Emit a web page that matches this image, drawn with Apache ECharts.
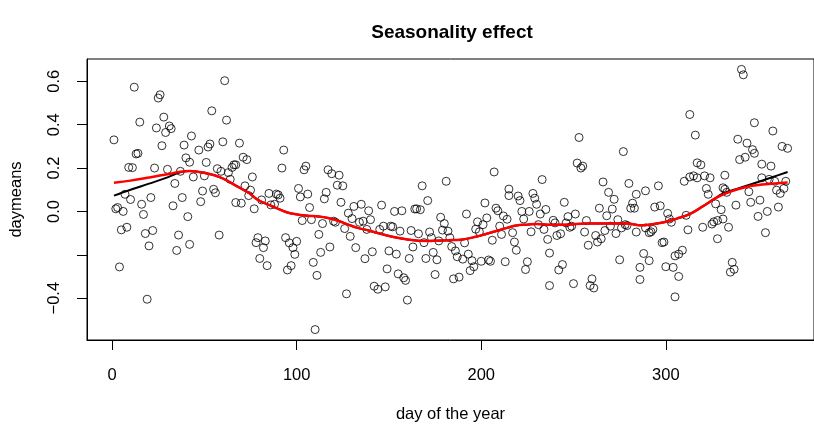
<!DOCTYPE html>
<html>
<head>
<meta charset="utf-8">
<script src="https://cdn.jsdelivr.net/npm/echarts@6/dist/echarts.min.js"></script>
<style>html,body{margin:0;padding:0;background:#fff}#c{width:814px;height:428px}</style>
</head>
<body>
<div id="c"></div>
<script>
// ---- data ----
const scatterDays = [
 12,26,25,15,28,24,31,32,29,1,27,39,43,13,14,40,42,9,11,23,30,37,44,34,7,10,21,38,16,33,2,3,6,17,41,8,5,18,22,36,20,42,35,4,19,
 61,54,62,47,52,53,60,69,51,50,57,59,65,66,67,63,71,73,76,64,72,75,49,55,56,48,67,70,74,77,81,85,86,89,90,88,58,79,78,83,82,80,84,
 93,92,104,105,117,119,123,122,125,101,102,106,116,115,91,107,124,103,108,114,120,121,126,128,130,131,135,139,134,136,138,140,129,112,94,96,98,100,99,118,113,132,137,95,97,109,111,127,142,110,141,
 181,168,171,146,153,157,164,165,167,147,145,151,152,156,162,166,172,173,169,177,178,180,179,182,183,184,186,187,150,154,163,161,170,174,176,149,155,158,159,175,185,188,144,148,160,
 207,233,215,215,220,221,228,229,230,202,192,208,209,212,214,203,198,201,197,199,222,223,226,232,235,210,211,217,218,219,227,231,234,236,237,206,191,193,195,196,194,190,200,204,205,213,225,224,237,
 253,277,252,254,255,266,280,269,272,284,245,282,281,283,264,271,251,247,268,239,240,246,248,249,257,274,276,270,278,279,267,256,262,265,263,273,284,243,241,258,275,244,242,286,286,250,260,259,261,
 313,316,317,319,313,315,317,310,321,324,332,331,332,322,323,296,289,294,297,301,302,303,311,327,330,328,326,325,320,312,334,293,292,291,289,328,298,299,288,291,300,304,307,305,307,309,305,
 341,342,348,358,339,344,347,348,363,366,340,343,352,357,352,356,359,365,364,360,362,345,333,331,346,351,338,361,355,350,354,336,335,337
];
const scatterVals = [
 0.573,0.538,0.523,0.412,0.435,0.385,0.394,0.382,0.364,0.330,0.303,0.306,0.348,0.265,0.268,0.247,0.227,0.203,0.202,0.200,0.194,0.185,0.159,0.129,0.079,0.055,0.064,0.064,0.033,0.026,0.012,0.018,0.000,-0.014,-0.024,-0.073,-0.085,-0.102,-0.088,-0.109,-0.159,-0.152,-0.180,-0.256,-0.405,
 0.603,0.464,0.421,0.283,0.297,0.311,0.321,0.315,0.226,0.164,0.197,0.185,0.203,0.215,0.215,0.179,0.250,0.239,0.159,0.148,0.118,0.098,0.094,0.102,0.086,0.045,0.041,0.038,0.073,0.012,0.053,0.083,0.030,0.080,0.076,0.033,-0.109,-0.121,-0.144,-0.136,-0.167,-0.217,-0.250,
 0.283,0.200,0.192,0.209,0.192,0.174,0.167,0.121,0.118,0.106,0.067,0.080,0.088,0.058,0.061,0.018,0.042,-0.042,-0.038,-0.056,-0.045,-0.050,-0.079,-0.008,-0.033,0.023,0.033,0.003,-0.050,-0.045,-0.083,-0.038,-0.115,-0.106,-0.121,-0.145,-0.167,-0.138,-0.198,-0.164,-0.189,-0.167,-0.218,-0.270,-0.250,-0.235,-0.295,-0.380,-0.345,-0.545,-0.186,
 0.139,0.118,0.050,0.029,0.000,0.003,0.011,0.012,0.008,-0.068,-0.083,-0.068,-0.071,-0.091,-0.088,-0.103,-0.095,-0.121,-0.144,-0.136,-0.027,-0.056,-0.086,-0.091,-0.121,-0.162,-0.182,-0.209,-0.182,-0.197,-0.164,-0.217,-0.217,-0.189,-0.223,-0.265,-0.288,-0.306,-0.318,-0.291,-0.311,-0.303,-0.359,-0.348,-0.409,
 0.182,0.147,0.103,0.073,0.071,0.050,0.083,0.061,0.033,0.039,-0.012,0.015,0.003,-0.021,-0.036,-0.030,-0.048,-0.061,-0.082,-0.094,0.000,-0.035,0.000,-0.012,0.009,-0.068,-0.106,-0.098,-0.141,-0.179,-0.094,-0.061,-0.083,-0.129,-0.192,-0.133,-0.145,-0.197,-0.227,-0.255,-0.273,-0.220,-0.230,-0.224,-0.230,-0.232,-0.232,-0.268,-0.342,
 0.341,0.276,0.223,0.200,0.209,0.136,0.129,0.088,0.056,0.079,0.042,0.038,0.015,0.015,0.015,0.011,-0.012,-0.024,-0.020,-0.041,-0.053,-0.053,-0.073,-0.068,-0.042,-0.038,-0.076,-0.068,-0.061,-0.065,-0.088,-0.095,-0.111,-0.126,-0.141,-0.102,-0.095,-0.103,-0.111,-0.156,-0.223,-0.245,-0.270,-0.258,-0.314,-0.333,-0.311,-0.342,-0.353,
 0.447,0.352,0.224,0.215,0.159,0.164,0.155,0.139,0.164,0.155,0.167,0.109,0.102,0.106,0.079,0.118,0.095,0.020,0.026,-0.009,-0.035,-0.050,-0.018,0.035,0.008,-0.042,-0.048,-0.058,-0.073,-0.085,-0.073,-0.083,-0.094,-0.098,-0.076,-0.126,-0.144,-0.141,-0.194,-0.227,-0.255,-0.258,-0.300,-0.205,-0.197,-0.179,-0.394,
 0.655,0.630,0.409,0.371,0.333,0.315,0.285,0.268,0.300,0.291,0.239,0.250,0.218,0.209,0.155,0.148,0.139,0.139,0.106,0.098,0.083,0.091,0.088,-0.035,0.042,0.052,0.029,0.020,0.000,-0.023,-0.098,-0.235,-0.280,-0.267
];
// red smoother
const redDays = [1,10,20,30,37,42,47,52,58,63,68,74,79,85,90,95,101,106,112,117,122,128,133,139,149,160,171,182,190,197,203,209,214,219,225,230,236,246,257,268,279,287,291,299,306,313,320,327,335,344,352,359,366];
const redVals = [0.132,0.142,0.156,0.171,0.183,0.187,0.182,0.174,0.159,0.139,0.114,0.086,0.053,0.030,0.012,-0.005,-0.015,-0.020,-0.023,-0.030,-0.042,-0.061,-0.076,-0.088,-0.111,-0.129,-0.136,-0.133,-0.129,-0.117,-0.103,-0.088,-0.076,-0.065,-0.061,-0.058,-0.061,-0.061,-0.056,-0.056,-0.056,-0.064,-0.061,-0.050,-0.033,-0.012,0.023,0.061,0.091,0.114,0.124,0.129,0.133];
// black smoother (mostly hidden under the red one)
const blackDays = [1,10,20,30,37,42,47,52,58,63,68,74,79,85,90,95,101,106,112,117,122,128,133,139,149,160,171,182,190,197,203,209,214,219,225,230,236,246,257,268,279,287,291,299,306,313,320,327,330,340,350,358,366];
const blackVals = [0.073,0.100,0.128,0.157,0.180,0.186,0.182,0.174,0.159,0.139,0.114,0.086,0.053,0.030,0.012,-0.005,-0.015,-0.020,-0.023,-0.030,-0.042,-0.061,-0.076,-0.088,-0.111,-0.129,-0.136,-0.133,-0.129,-0.117,-0.103,-0.088,-0.076,-0.065,-0.061,-0.058,-0.061,-0.061,-0.056,-0.056,-0.056,-0.064,-0.061,-0.050,-0.033,-0.012,0.023,0.061,0.079,0.108,0.136,0.159,0.182];
// ticks
const xTicks = [0,100,200,300];
const yTicks = [-0.4,-0.2,0,0.2,0.4,0.6];
const yLabelTicks = [-0.4,0,0.2,0.4,0.6];

const FONT = 'Liberation Sans, Arial, Helvetica, sans-serif';
const chart = echarts.init(document.getElementById('c'), null, {renderer:'canvas'});
const pair = (xs, ys) => xs.map((x,i)=>[x, ys[i]]);
const fmtY = v => (v < 0 ? '\u2212' : '') + Math.abs(v).toFixed(1);

chart.setOption({
  animation:false,
  backgroundColor:'#ffffff',
  graphic:[{type:'text', x:452, y:33, style:{text:'Seasonality effect', font:'bold 19px '+FONT, fill:'#000', textAlign:'center', textVerticalAlign:'middle'}}],
  grid:{left:87, top:59, width:731, height:285, show:true, borderColor:'#000', borderWidth:1, containLabel:false},
  xAxis:{type:'value', min:-13.6, max:380.3,
    name:'day of the year', nameLocation:'middle', nameGap:66,
    nameTextStyle:{fontFamily:FONT, fontSize:16.5, color:'#000'},
    axisLine:{show:true, onZero:false, lineStyle:{color:'#000', width:1}},
    axisTick:{show:true, length:10, inside:false, customValues:xTicks, lineStyle:{color:'#000'}},
    axisLabel:{customValues:xTicks, margin:27, fontFamily:FONT, fontSize:16.5, color:'#000', formatter:v=>String(v)},
    splitLine:{show:false}},
  yAxis:{type:'value', min:-0.593, max:0.703,
    name:'daymeans', nameLocation:'middle', nameGap:62, nameRotate:90,
    nameTextStyle:{fontFamily:FONT, fontSize:16.5, color:'#000'},
    axisLine:{show:true, onZero:false, lineStyle:{color:'#000', width:1}},
    axisTick:{show:true, length:10, inside:false, customValues:yTicks, lineStyle:{color:'#000'}},
    axisLabel:{customValues:yLabelTicks, rotate:90, margin:24, fontFamily:FONT, fontSize:16.5, color:'#000', formatter:fmtY},
    splitLine:{show:false}},
  series:[
    {type:'scatter', data:pair(scatterDays, scatterVals), symbol:'circle', symbolSize:8,
     itemStyle:{color:'rgba(0,0,0,0)', borderColor:'#000', borderWidth:1}, z:2},
    {type:'line', data:pair(blackDays, blackVals), showSymbol:false, smooth:0.4,
     lineStyle:{color:'#000', width:2}, z:3},
    {type:'line', data:pair(redDays, redVals), showSymbol:false, smooth:0.4,
     lineStyle:{color:'#ff0000', width:2.5}, z:4}
  ]
});
</script>
</body>
</html>
